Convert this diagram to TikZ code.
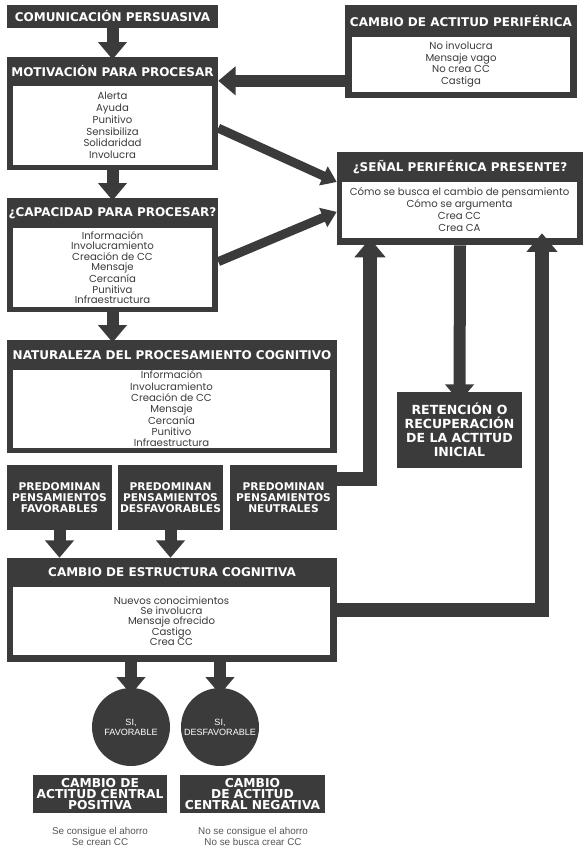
\documentclass[tikz,border=0pt]{standalone}
\usepackage{fontspec}
\setmainfont{Liberation Sans}
\newfontfamily\headfont{DejaVu Sans}
\newfontfamily\listfont{Poppins}
\usetikzlibrary{fit,arrows.meta}
\definecolor{boxgray}{HTML}{3B3B3B}
\definecolor{notegray}{HTML}{555555}
\newcommand\listsize[1]{\listfont\fontsize{7.6}{#1}\selectfont}

\tikzset{
  dbox/.style={fill=boxgray, inner sep=0pt},
  wbox/.style={fill=white, inner sep=0pt},
  ltext/.style={text=boxgray, inner sep=0pt, align=center},
  htext/.style={text=white, inner sep=0pt, align=center,
    font=\headfont\bfseries\fontsize{9}{10}\selectfont},
  stext/.style={text=white, inner sep=0pt, align=center,
    font=\headfont\bfseries\fontsize{8}{8.4}\selectfont},
  ctext/.style={text=white, inner sep=0pt, align=center,
    font=\headfont\bfseries\fontsize{9.2}{8.5}\selectfont},
  disc/.style={circle, fill=boxgray, minimum size=58.5pt, inner sep=0pt, text=white,
    align=center, font=\fontsize{6.8}{7.6}\selectfont},
  barrow/.style={draw=boxgray, line width=9pt, -{Triangle[width=21pt,length=13pt]}},
  larrow/.style={draw=boxgray, line width=10.5pt, -{Triangle[width=22.5pt,length=14pt]}},
  tarrow/.style={draw=boxgray, line width=6.75pt, -{Triangle[width=15pt,length=11pt]}},
  note/.style={text=notegray, align=center, inner sep=0pt,
    font=\fontsize{7.4}{8.2}\selectfont}
}

\begin{document}
\begin{tikzpicture}[x=0.75pt,y=-0.75pt]
\useasboundingbox (0,0) rectangle (588,849);

% left column
\node[dbox, fit={(7,5) (218,28)}] (com) {};
\node[htext] (comT) at (com) {COMUNICACIÓN PERSUASIVA};

\node[dbox, fit={(7,57) (218,170)}] (mot) {};
\node[htext] (motT) at (112.5,71.5) {MOTIVACIÓN PARA PROCESAR};
\node[wbox, fit={(13,86) (212,165)}] (motL) {};
\node[ltext, font=\listsize{8.8}] at (motL)
  {Alerta\\Ayuda\\Punitivo\\Sensibiliza\\Solidaridad\\Involucra};

\node[dbox, fit={(7,198) (218,312)}] (cap) {};
\node[htext] (capT) at (112.5,213) {¿CAPACIDAD PARA PROCESAR?};
\node[wbox, fit={(13,228) (212,307)}] (capL) {};
\node[ltext, font=\listsize{7.8}] at (capL)
  {Información\\Involucramiento\\Creación de CC\\Mensaje\\Cercanía\\Punitiva\\Infraestructura};

\node[dbox, fit={(7,340) (337,453)}] (nat) {};
\node[htext] (natT) at (172,355) {NATURALEZA DEL PROCESAMIENTO COGNITIVO};
\node[wbox, fit={(13,370) (330,448)}] (natL) {};
\node[ltext, font=\listsize{8.5}] at (natL)
  {Información\\Involucramiento\\Creación de CC\\Mensaje\\Cercanía\\Punitivo\\Infraestructura};

\node[dbox, fit={(7,465) (112,530)}] (fav) {};
\node[stext] at (fav) {PREDOMINAN\\PENSAMIENTOS\\FAVORABLES};
\node[dbox, fit={(118,465) (223,530)}] (des) {};
\node[stext] at (des) {PREDOMINAN\\PENSAMIENTOS\\DESFAVORABLES};
\node[dbox, fit={(230,465) (337,530)}] (neu) {};
\node[stext] at (neu) {PREDOMINAN\\PENSAMIENTOS\\NEUTRALES};

\node[dbox, fit={(7,558) (337,662)}] (est) {};
\node[htext] (estT) at (172,572.5) {CAMBIO DE ESTRUCTURA COGNITIVA};
\node[wbox, fit={(13,587) (330,655)}] (estL) {};
\node[ltext, font=\listsize{7.8}] at (estL)
  {Nuevos conocimientos\\Se involucra\\Mensaje ofrecido\\Castigo\\Crea CC};

% right column
\node[dbox, fit={(345,5) (577,98)}] (per) {};
\node[htext] (perT) at (461,21) {CAMBIO DE ACTITUD PERIFÉRICA};
\node[wbox, fit={(352,37) (570,92)}] (perL) {};
\node[ltext, font=\listsize{8.8}] at (perL)
  {No involucra\\Mensaje vago\\No crea CC\\Castiga};

\node[dbox, fit={(337,152) (583,245)}] (sen) {};
\node[htext] (senT) at (460,167) {¿SEÑAL PERIFÉRICA PRESENTE?};
\node[wbox, fit={(342,182) (577,238)}] (senL) {};
\node[ltext, font=\listsize{9}] at (senL)
  {Cómo se busca el cambio de pensamiento\\Cómo se argumenta\\Crea CC\\Crea CA};

\node[dbox, fit={(397,392) (522,468)}] (ret) {};
\node[htext, font=\headfont\bfseries\fontsize{9.4}{10.5}\selectfont] at (ret)
  {RETENCIÓN O\\RECUPERACIÓN\\DE LA ACTITUD\\INICIAL};

% outcomes
\node[disc] (cfav) at (131,727) {SI,\\FAVORABLE};
\node[disc] (cdes) at (220,727) {SI,\\DESFAVORABLE};

\node[dbox, fit={(33,775) (167,813)}] (pos) {};
\node[ctext] at (pos) {CAMBIO DE\\ACTITUD CENTRAL\\POSITIVA};
\node[dbox, fit={(180,775) (325,813)}] (neg) {};
\node[ctext] at (neg) {CAMBIO\\DE ACTITUD\\CENTRAL NEGATIVA};

\node[note] (posN) at (100,836) {Se consigue el ahorro\\Se crean CC};
\node[note] (negN) at (253,836) {No se consigue el ahorro\\No se busca crear CC};

% arrows
\coordinate (natin) at (cap.south |- nat.north);
\coordinate (perout) at ([yshift=-22pt]per.west);
\draw[barrow] (com.south) -- ([yshift=-2pt]mot.north);
\draw[barrow] (mot.south) -- ([yshift=-2pt]cap.north);
\draw[barrow] (cap.south) -- ([yshift=-2pt]natin);
\draw[barrow] (perout) -- (perout -| mot.east);
\draw[tarrow] ([yshift=-11pt]mot.east) -- ([yshift=12.4pt]sen.west);
\draw[tarrow] ([yshift=-5pt]cap.east) -- ([yshift=-10pt]sen.west);
\draw[barrow] (sen.south) -- ([yshift=-7.5pt]ret.north);
\draw[larrow] ([yshift=-10.5pt]neu.north east) -| ([xshift=-67.5pt,yshift=5pt]sen.south);
\draw[larrow] (est.east) -| ([xshift=61.5pt,yshift=9pt]sen.south);
\draw[barrow] (fav.south) -- (fav.south |- est.north);
\draw[barrow] (des.south) -- (des.south |- est.north);
\draw[barrow] (cfav |- est.south) -- ([yshift=-5pt]cfav.north);
\draw[barrow] (cdes |- est.south) -- ([yshift=-5pt]cdes.north);
\end{tikzpicture}
\end{document}
